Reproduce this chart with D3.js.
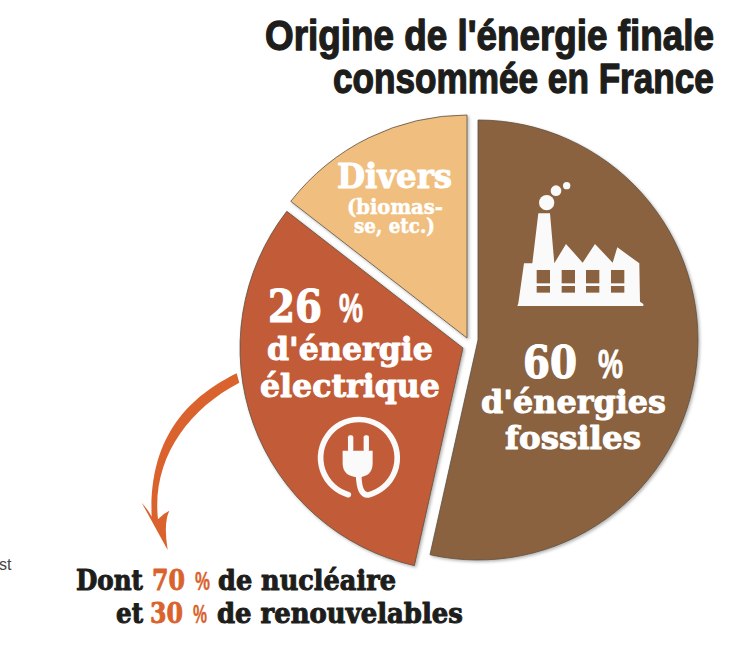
<!DOCTYPE html>
<html lang="fr">
<head>
<meta charset="utf-8">
<title>Origine de l'énergie finale</title>
<script src="https://cdnjs.cloudflare.com/ajax/libs/d3/7.8.5/d3.min.js"></script>
<style>
  html, body { margin: 0; padding: 0; background: #fff; }
  svg { display: block; }
</style>
</head>
<body>
<div id="chart"></div>
<script>
// the drawn angles do not follow the printed percentages, so both are kept
var sliceNames = ["fossiles", "electrique", "divers"];
var drawnShares = [53.5, 32, 14.5];
var sliceColors = ["#8a6240", "#c25b37", "#f0bf80"];
var titleLines = ["Origine de l'énergie finale", "consommée en France"];
var fossilLabels = ["60", "%", "d'énergies", "fossiles"];
var electricLabels = ["26", "%", "d'énergie", "électrique"];
var diversLabels = ["Divers", "(biomas-", "se, etc.)"];
var noteOne = ["Dont", "70", "%", "de nucléaire"];
var noteTwo = ["et", "30", "%", "de renouvelables"];

var width = 750, height = 664;
var slab = "'DejaVu Serif', serif";
var narrow = "'Liberation Sans Narrow', 'Liberation Sans', sans-serif";

var svg = d3.select("#chart").append("svg")
    .attr("width", width)
    .attr("height", height);

var defs = svg.append("defs");
var shadow = defs.append("filter").attr("id", "shadow")
    .attr("x", "-10%").attr("y", "-10%").attr("width", "120%").attr("height", "120%");
shadow.append("feDropShadow")
    .attr("dx", 1.5).attr("dy", 1.5).attr("stdDeviation", 1.5)
    .attr("flood-color", "#000").attr("flood-opacity", 0.3);

// pie, each slice pushed out from its own centre
var centres = [[478, 340], [463, 348], [467, 338]];
var radii = [220, 223, 223];

var pie = d3.pie().sort(null).value(function(d) { return d; });
var arcs = pie(drawnShares);

svg.selectAll("path.slice")
    .data(arcs)
  .enter().append("path")
    .attr("class", "slice")
    .attr("transform", function(d, i) { return "translate(" + centres[i] + ")"; })
    .attr("d", function(d, i) { return d3.arc().innerRadius(0).outerRadius(radii[i])(d); })
    .attr("fill", function(d, i) { return sliceColors[i]; })
    .attr("stroke", "#5c5040")
    .attr("stroke-width", 0.8)
    .attr("filter", "url(#shadow)");

// squeeze or stretch one piece of text so it takes the width it has in the print
function fitLine(str, x, y, w, size, family, color, heavy) {
  var g = svg.append("g");
  var t = g.append("text")
      .attr("font-family", family)
      .attr("font-weight", "bold")
      .attr("font-size", size)
      .attr("fill", color)
      .attr("stroke", color)
      .attr("stroke-width", heavy)
      .attr("stroke-linejoin", "round")
      .text(str);
  var k = w / t.node().getComputedTextLength();
  g.attr("transform", "translate(" + x + "," + y + ") scale(" + k + ",1)");
}

var dark = "#1d1d1b", orange = "#d9622d";

// title
fitLine(titleLines[0], 265, 50, 449, 42, narrow, dark, 1.3);
fitLine(titleLines[1], 333, 93, 381, 42, narrow, dark, 1.3);

// slice labels
fitLine(diversLabels[0], 337, 188, 115, 33, slab, "#fff", 1);
fitLine(diversLabels[1], 347, 214, 96, 20, slab, "#fff", 0.5);
fitLine(diversLabels[2], 354, 233, 81, 20, slab, "#fff", 0.5);

fitLine(electricLabels[0], 268, 322, 54, 44, slab, "#fff", 1.2);
fitLine(electricLabels[1], 339, 322, 24, 40, narrow, "#fff", 0.8);
fitLine(electricLabels[2], 267, 360, 166, 32, slab, "#fff", 1);
fitLine(electricLabels[3], 260, 397, 180, 32, slab, "#fff", 1);

fitLine(fossilLabels[0], 523, 378, 54, 44, slab, "#fff", 1.2);
fitLine(fossilLabels[1], 598, 378, 25, 40, narrow, "#fff", 0.8);
fitLine(fossilLabels[2], 481, 413, 185, 32, slab, "#fff", 1);
fitLine(fossilLabels[3], 505, 449, 136, 32, slab, "#fff", 1);

// note under the pie
fitLine(noteOne[0], 76, 590, 67, 27, slab, dark, 1);
fitLine(noteOne[1], 152, 590, 33, 27, slab, orange, 0.8);
fitLine(noteOne[2], 195, 590, 15, 26, narrow, orange, 0.4);
fitLine(noteOne[3], 218, 590, 178, 27, slab, dark, 1);
fitLine(noteTwo[0], 116, 623, 27, 27, slab, dark, 1);
fitLine(noteTwo[1], 150, 623, 33, 27, slab, orange, 0.8);
fitLine(noteTwo[2], 193, 623, 14, 26, narrow, orange, 0.4);
fitLine(noteTwo[3], 217, 623, 246, 27, slab, dark, 1);

// cut-off word from the neighbouring column
svg.append("text")
    .attr("x", -1).attr("y", 570)
    .attr("font-family", "'Liberation Sans', sans-serif")
    .attr("font-size", 16)
    .attr("fill", "#444")
    .text("st");

// factory icon, traced at 3x
var factory = svg.append("g").attr("transform", "translate(500,170) scale(0.3333)");
factory.append("path")
    .attr("fill", "#fafafa")
    .attr("d", "M55,400 L72,280 L97,280 L115,130 L150,130 L163,280 L198,222 L248,278 L285,222 L338,278 L352,232 L418,280 L420,395 L430,402 L430,408 L52,408 Z");
[[140, 98, 23], [168, 62, 16], [200, 47, 11]].forEach(function(c) {
  factory.append("circle").attr("cx", c[0]).attr("cy", c[1]).attr("r", c[2]).attr("fill", "#fafafa");
});
[110, 185, 258, 333].forEach(function(x) {
  factory.append("rect").attr("x", x).attr("y", 300).attr("width", 40).attr("height", 40).attr("fill", "#8a6240");
  factory.append("rect").attr("x", x).attr("y", 348).attr("width", 40).attr("height", 20).attr("fill", "#8a6240");
});

// plug icon and arrow, traced at 3x
var lower = svg.append("g").attr("transform", "translate(0,360) scale(0.3333)");
lower.append("path")
    .attr("fill", "none").attr("stroke", "#fafafa").attr("stroke-width", 17).attr("stroke-linecap", "round")
    .attr("d", "M1045,404 A115,115 0 1 1 1105,405 Q1078,408 1076,345");
lower.append("path")
    .attr("fill", "#fafafa")
    .attr("d", "M1028,272 L1118,272 L1118,310 Q1118,350 1075,352 Q1028,350 1028,310 Z");
lower.append("rect").attr("x", 1044).attr("y", 226).attr("width", 16).attr("height", 50).attr("rx", 6).attr("fill", "#fafafa");
lower.append("rect").attr("x", 1091).attr("y", 226).attr("width", 16).attr("height", 50).attr("rx", 6).attr("fill", "#fafafa");

lower.append("path")
    .attr("fill", orange)
    .attr("d", "M710,40 C590,100 445,210 455,470 Q445,450 425,428 L503,570 Q490,490 508,452 Q490,460 474,478 C455,300 560,150 718,68 Z");
</script>
</body>
</html>
